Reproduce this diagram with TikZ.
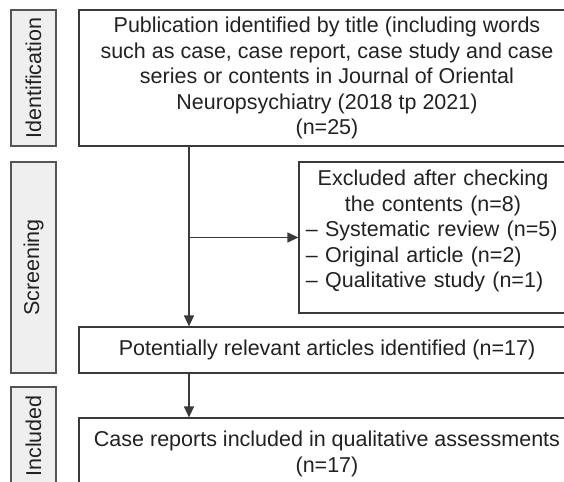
\documentclass[tikz,border=0pt]{standalone}
\usepackage{fontspec}
\setmainfont{Liberation Sans}
\usepackage{xcolor}
\usepackage{tikz}
\usetikzlibrary{arrows.meta}

\definecolor{linea}{HTML}{3A3A3A}
\definecolor{bordeetapa}{HTML}{555555}
\definecolor{fondoetapa}{HTML}{EFEFEF}
\definecolor{texto}{HTML}{222222}

\begin{document}
\begin{tikzpicture}[x=0.5pt, y=-0.5pt,
    every node/.style={font=\fontsize{10.75}{12.75}\selectfont, text=texto},
    etapa/.style={draw=bordeetapa, fill=fondoetapa, rotate=90, minimum height=22.5pt, inner sep=0pt, line width=0.6pt},
    caja/.style={draw=linea, fill=white, align=center, inner sep=0pt, line width=0.6pt},
    flecha/.style={draw=linea, line width=0.6pt, -{Triangle[length=5.5pt, width=5pt]}}]

        \useasboundingbox (0,0) rectangle (564,482);
        \clip (0,0) rectangle (564,482);

        % Etapas
        \node[etapa, minimum width=68pt] (ident) at (33.5,78) {Identification};
        \node[etapa, minimum width=105.5pt] (cribado) at (33.5,267.5) {Screening};
        \node[etapa, minimum width=49pt] (incluido) at (33.5,436) {Included};

        % Cajas
        \node[caja, minimum width=248pt, minimum height=68pt] (publicacion) at (327,78)
            {Publication identified by title (including words\\
             such as case, case report, case study and case\\
             series or contents in Journal of Oriental\\
             Neuropsychiatry (2018 tp 2021)\\
             (n=25)};
        \node[caja, align=left, minimum width=134pt, minimum height=75.5pt, text width=127pt, inner xsep=3.5pt] (excluidos) at (433,237.5)
            {{\centering Excluded after checking\\ the contents (n=8)\par}
             – Systematic review (n=5)\\
             – Original article (n=2)\\
             – Qualitative study (n=1)\par\vspace{6.5pt}};
        \node[caja, minimum width=248pt, minimum height=23pt] (potencial) at (327,350)
            {Potentially relevant articles identified (n=17)};
        \node[caja, minimum width=248pt, minimum height=36pt] (casos) at (327,454)
            {Case reports included in qualitative assessments\\ (n=17)};

        % Flechas
        \coordinate (eje) at (189,237.5);
        \draw[draw=linea, line width=0.6pt] (publicacion.south -| eje) -- (eje);
        \draw[flecha] (eje) -- (excluidos.west);
        \draw[flecha] (eje) -- (potencial.north -| eje);
        \draw[flecha] (potencial.south -| eje) -- (casos.north -| eje);

    \end{tikzpicture}
\end{document}
